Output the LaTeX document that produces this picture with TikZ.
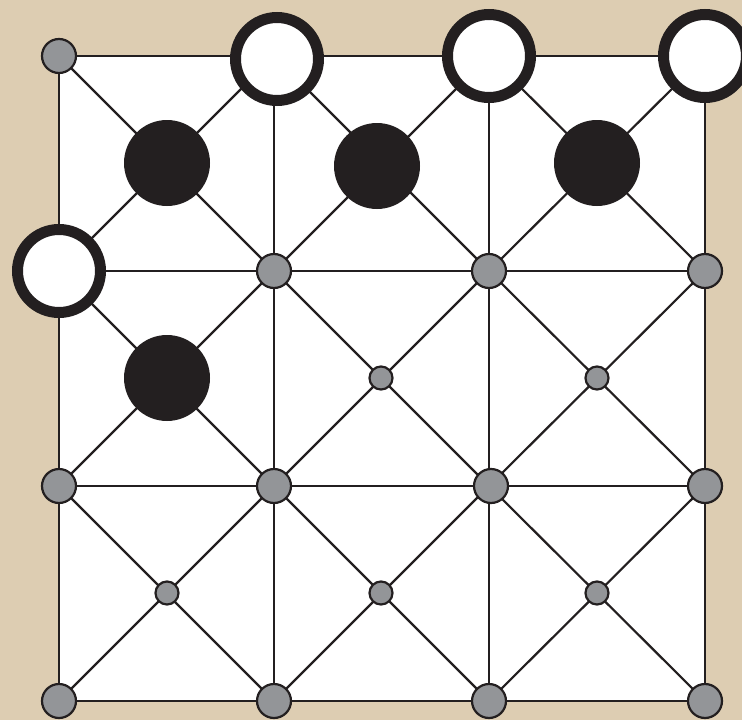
\documentclass[tikz,border=0pt]{standalone}
\definecolor{parch}{RGB}{221,205,178}
\definecolor{ink}{RGB}{35,31,32}
\definecolor{peg}{RGB}{147,149,152}
\begin{document}
\begin{tikzpicture}[x=1pt,y=-1pt,
  gridline/.style={draw=ink,line width=2.8pt},
  diagline/.style={draw=ink,line width=2.2pt},
  bigpeg/.style={circle,fill=peg,draw=ink,line width=2.2pt,minimum size=34pt,inner sep=0pt},
  smallpeg/.style={circle,fill=peg,draw=ink,line width=2.2pt,minimum size=23pt,inner sep=0pt},
  whitepiece/.style={circle,fill=white,draw=ink,line width=11pt,minimum size=83pt,inner sep=0pt},
  blackpiece/.style={circle,fill=ink,draw=none,minimum size=86pt,inner sep=0pt}]
\useasboundingbox (0,0) rectangle (742,720);
\fill[parch] (0,0) rectangle (742,720);
% grid coordinates
\foreach \i/\x in {0/59,1/274,2/489,3/705}{
  \foreach \j/\y in {0/56,1/271,2/486,3/701}{
    \coordinate (g\i\j) at (\x,\y);
  }
}
\foreach \i/\x in {0/167,1/381,2/597}{
  \foreach \j/\y in {0/163,1/378,2/593}{
    \coordinate (c\i\j) at (\x,\y);
  }
}
\fill[white] (g00) rectangle (g33);
% diagonals
\foreach \i/\ii in {0/1,1/2,2/3}{
  \foreach \j/\jj in {0/1,1/2,2/3}{
    \draw[diagline] (g\i\j) -- (g\ii\jj);
    \draw[diagline] (g\ii\j) -- (g\i\jj);
  }
}
% orthogonal lines
\foreach \k in {0,1,2,3}{
  \draw[gridline] (g\k0) -- (g\k3);
  \draw[gridline] (g0\k) -- (g3\k);
}
% gray pegs at intersections
\node[bigpeg] (p00) at (g00) {};
\node[bigpeg] (p11) at (g11) {};
\node[bigpeg] (p21) at (g21) {};
\node[bigpeg] (p31) at (g31) {};
\node[bigpeg] (p02) at (g02) {};
\node[bigpeg] (p12) at (g12) {};
\node[bigpeg] (p22) at ([xshift=2pt]g22) {};
\node[bigpeg] (p32) at (g32) {};
\node[bigpeg] (p03) at (g03) {};
\node[bigpeg] (p13) at (g13) {};
\node[bigpeg] (p23) at (g23) {};
\node[bigpeg] (p33) at (g33) {};
% small pegs at cell centres
\node[smallpeg] (s11) at (c11) {};
\node[smallpeg] (s21) at (c21) {};
\node[smallpeg] (s02) at (c02) {};
\node[smallpeg] (s12) at (c12) {};
\node[smallpeg] (s22) at (c22) {};
% black pieces
\node[blackpiece] (b00) at (c00) {};
\node[blackpiece] (b10) at ([xshift=-4pt,yshift=-3pt]c10) {};
\node[blackpiece] (b20) at (c20) {};
\node[blackpiece] (b01) at (c01) {};
% white pieces
\node[whitepiece] (w10) at ([xshift=3pt,yshift=-3pt]g10) {};
\node[whitepiece] (w20) at (g20) {};
\node[whitepiece] (w30) at (g30) {};
\node[whitepiece] (w01) at (g01) {};
\end{tikzpicture}
\end{document}
